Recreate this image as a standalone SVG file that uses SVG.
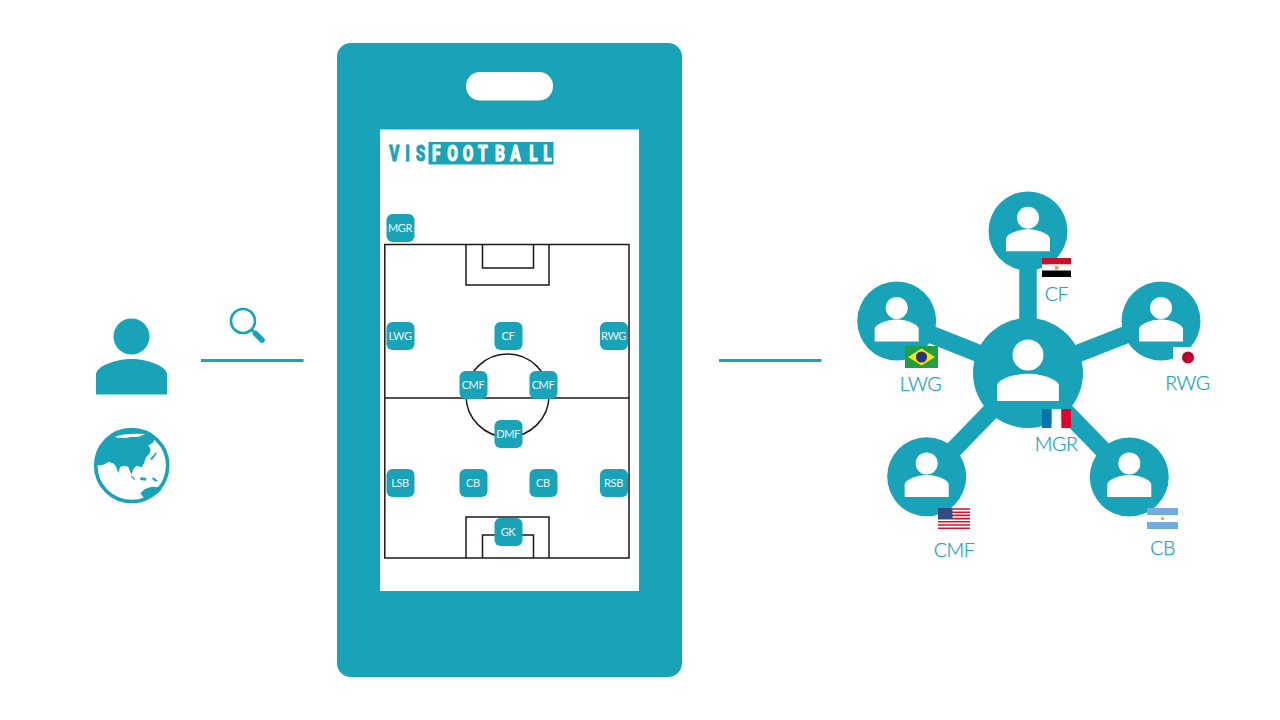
<svg xmlns="http://www.w3.org/2000/svg" width="1280" height="720" viewBox="0 0 1280 720">
<style>
.t{fill:#18a3b9}
.w{fill:#fff}
.bg{fill:#18a3b9}
.ln{fill:none;stroke:#18a3b9;stroke-width:3}
.lk{fill:none;stroke:#18a3b9;stroke-width:17.5}
.pt{fill:none;stroke:#1a1a1a;stroke-width:1.5}
.lab{font-family:Lato,"Noto Sans",sans-serif;font-size:19.5px;font-weight:300;letter-spacing:-.4px;fill:#18a3b9;stroke:#18a3b9;stroke-width:.25;text-anchor:middle}
.bt{font-family:Lato,"Noto Sans",sans-serif;font-size:11px;font-weight:400;letter-spacing:-.35px;fill:#e8f7f9;text-anchor:middle}
.logo{font-family:Roboto,"Liberation Sans",sans-serif;font-weight:900;font-size:22px;stroke-width:.8}
</style>
<defs>
<path id="body" d="M-35.500 0V-20C-35.500 -28 -16 -35.500 0 -35.500C16 -35.500 35.500 -28 35.500 -20V0Z"/>
<g id="badge"><rect x="-14" y="-14" width="28" height="28" rx="6" fill="#18a3b9"/></g>
<g id="pers"><circle cx="0" cy="-33.600" r="11" fill="#fff"/><use href="#body" transform="scale(.62)" fill="#fff"/></g>
</defs>

<g id="user">
<circle class="t" cx="131.500" cy="336.500" r="18"/>
<use href="#body" class="t" transform="translate(131.500 394.500)"/>
</g>
<g id="globe">
<circle cx="131.700" cy="465.500" r="36" fill="#fff"/>
<g transform="translate(90 424) scale(.33333)" class="t">
<path d="M17 125L40 122L55 114L70 118L78 128L85 147L90 130L100 125L115 128L124 152L130 135L140 125L155 130L162 118L168 100L178 90L182 75L175 65L190 55L196 43A108 108 0 0 0 17 125Z"/>
<path class="w" d="M75 39C90 32 120 28 165 30C150 36 145 42 125 38C110 42 90 44 75 39Z"/>
<path d="M180 105L198 85L200 89L186 108ZM125 155L136 166L133 168L123 158ZM150 160L170 162L166 170L152 168ZM190 160L205 172L195 172L186 164ZM151 208L165 195L185 188L205 190L216 196A108 108 0 0 1 165 226Z"/>
</g>
<circle cx="131.700" cy="465.500" r="36" fill="none" stroke="#18a3b9" stroke-width="3.600"/>
</g>
<g id="search">
<circle cx="243" cy="321" r="12" fill="none" stroke="#18a3b9" stroke-width="2.600"/>
<path d="M252 330L255 333" fill="none" stroke="#18a3b9" stroke-width="2.500"/>
<path d="M255.500 333.500L262 340" fill="none" stroke="#18a3b9" stroke-width="5.500" stroke-linecap="round"/>
</g>
<g id="connectors">
<path class="ln" d="M201 360.500H303.500M719 360.500H821.500"/>
<path class="lk" d="M1028 373V231M1028 373L897 321M1028 373L1161 321M1028 373L927 477M1028 373L1129.500 477"/>
</g>
<g id="phone">
<rect class="bg" x="337" y="43" width="345" height="634" rx="14"/>
<rect class="w" x="466" y="72" width="87" height="28.500" rx="14"/>
<rect class="w" x="380" y="129.500" width="259" height="461.500"/>
</g>
<g id="logo">
<rect class="bg" x="428.500" y="142" width="125" height="22.500"/>
<g transform="translate(0 161) scale(.7 1)">
<text class="logo" fill="#18a3b9" stroke="#18a3b9" x="556 579 594">VIS</text>
<text class="logo" fill="#fff" stroke="#fff" x="617 639 661 683 707 729 756 776">FOOTBALL</text>
</g>
</g>
<g id="pitch">
<path class="pt" d="M384.800 244.500H629V558H384.800ZM384.800 398H629M466 244.500V285H549V244.500M482.500 244.500V268H533.500V244.500M466 558V517H549V558M482.500 558V535H533.500V558"/>
<circle class="pt" cx="507.500" cy="395.500" r="41.500"/>
</g>
<g id="badge-mgr"><use href="#badge" x="400.500" y="228"/><text class="bt" x="400" y="232">MGR</text></g>
<g id="badge-lwg"><use href="#badge" x="400.500" y="336"/><text class="bt" x="400" y="340">LWG</text></g>
<g id="badge-cf"><use href="#badge" x="508.500" y="336"/><text class="bt" x="508" y="340">CF</text></g>
<g id="badge-rwg"><use href="#badge" x="614" y="336"/><text class="bt" x="613.500" y="340">RWG</text></g>
<g id="badge-cmf1"><use href="#badge" x="473.500" y="385"/><text class="bt" x="473" y="389">CMF</text></g>
<g id="badge-cmf2"><use href="#badge" x="543.500" y="385"/><text class="bt" x="543" y="389">CMF</text></g>
<g id="badge-dmf"><use href="#badge" x="508.500" y="434"/><text class="bt" x="508" y="438">DMF</text></g>
<g id="badge-lsb"><use href="#badge" x="400.500" y="483"/><text class="bt" x="400" y="487">LSB</text></g>
<g id="badge-cb1"><use href="#badge" x="473.500" y="483"/><text class="bt" x="473" y="487">CB</text></g>
<g id="badge-cb2"><use href="#badge" x="543.500" y="483"/><text class="bt" x="543" y="487">CB</text></g>
<g id="badge-rsb"><use href="#badge" x="614" y="483"/><text class="bt" x="613.500" y="487">RSB</text></g>
<g id="badge-gk"><use href="#badge" x="508.500" y="532"/><text class="bt" x="508" y="536">GK</text></g>

<g id="node-center">
<circle class="t" cx="1028" cy="373" r="55"/>
<circle class="w" cx="1028" cy="355" r="15.500"/>
<use href="#body" class="w" transform="translate(1028 401) scale(.87 .77)"/>
</g>
<g id="node-cf">
<circle class="t" cx="1028" cy="231" r="39.500"/><use href="#pers" x="1028" y="251.300"/>
<g><rect x="1042" y="258" width="29" height="6.500" fill="#ce1126"/><rect x="1042" y="264.500" width="29" height="6" fill="#fff"/><rect x="1042" y="270.500" width="29" height="6.500" fill="#000"/><rect x="1055" y="266" width="3.500" height="3.500" fill="#c8a95a"/></g>
<text class="lab" x="1056.500" y="300.700">CF</text>
</g>
<g id="node-lwg">
<circle class="t" cx="896.700" cy="321" r="39.500"/><use href="#pers" x="896.700" y="341.500"/>
<g><rect x="905" y="346" width="33" height="22" fill="#229e45"/><path d="M908 357L921.500 348.500L935 357L921.500 365.500Z" fill="#f8e509"/><circle cx="921.500" cy="357" r="5.600" fill="#2b3284"/></g>
<text class="lab" x="920.500" y="390.700">LWG</text>
</g>
<g id="node-rwg">
<circle class="t" cx="1161" cy="321" r="39.500"/><use href="#pers" x="1161" y="341.500"/>
<rect x="1173" y="347" width="30" height="21" fill="#fff"/><circle cx="1188" cy="357.500" r="6" fill="#bc002d"/>
<text class="lab" x="1187.500" y="390">RWG</text>
</g>
<g id="node-cmf">
<circle class="t" cx="926.700" cy="476.700" r="39.500"/><use href="#pers" x="926.700" y="497"/>
<g><rect x="938" y="508" width="32" height="21" fill="#fff"/><path d="M938 509H970M938 512.200H970M938 515.400H970M938 518.600H970M938 521.800H970M938 525H970M938 528.200H970" stroke="#d8112f" stroke-width="1.600"/><rect x="938" y="508" width="14.500" height="11" fill="#2f4d80"/></g>
<text class="lab" x="954" y="556.700">CMF</text>
</g>
<g id="node-cb">
<circle class="t" cx="1129.300" cy="477" r="39.500"/><use href="#pers" x="1129.300" y="497"/>
<g><rect x="1147" y="508" width="31" height="7" fill="#74acdf"/><rect x="1147" y="515" width="31" height="7" fill="#fff"/><rect x="1147" y="522" width="31" height="7" fill="#74acdf"/><circle cx="1162.500" cy="518.500" r="1.800" fill="#f6b40e"/></g>
<text class="lab" x="1162.500" y="555">CB</text>
</g>
<g id="flag-mgr"><rect x="1042" y="409" width="9.700" height="19" fill="#0a73ac"/><rect x="1051.700" y="409" width="9.700" height="19" fill="#fff"/><rect x="1061.400" y="409" width="9.600" height="19" fill="#e1002a"/>
<text class="lab" x="1056" y="451">MGR</text></g>
</svg>
